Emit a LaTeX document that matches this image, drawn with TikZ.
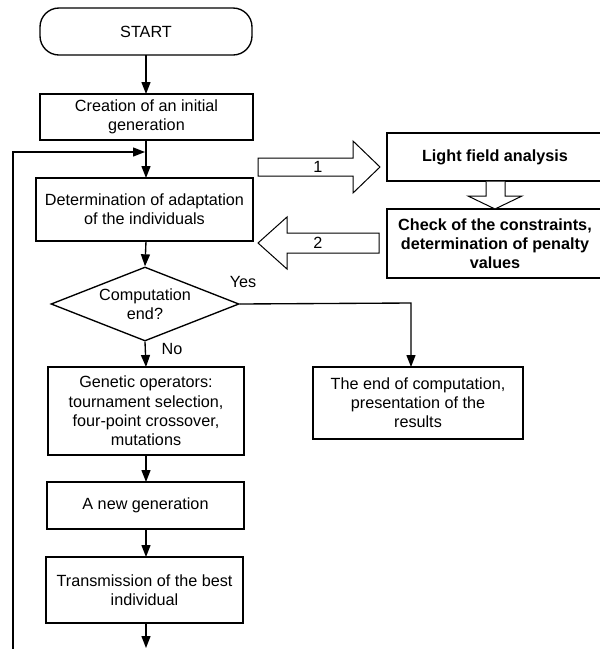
\documentclass[tikz,border=0pt]{standalone}
\usepackage{fontspec}
\setmainfont{Liberation Sans}
\usetikzlibrary{shapes.geometric,arrows.meta}
\begin{document}
\begin{tikzpicture}[x=1pt,y=-1pt,
  every node/.style={font=\fontsize{16.2}{19.2}\selectfont},
  box/.style={draw,line width=1.35pt,align=center,inner sep=0pt},
  bbox/.style={box,font=\fontsize{16.2}{19.2}\selectfont\bfseries},
  conn/.style={line width=1.35pt,-{Triangle[length=12pt,width=9pt]}},
  blockarrow/.style={draw,line width=1pt,fill=white,line join=miter},
  lbl/.style={inner sep=0pt}]
\fill[white] (0,0) rectangle (600,649);
\useasboundingbox (0,0) rectangle (600,649);

\node[box,rounded corners=19pt,minimum width=212pt,minimum height=47pt] (start) at (146,31.5) {START};
\node[box,minimum width=213pt,minimum height=46pt] (create) at (146.5,117) {Creation of an initial\\generation};
\node[box,minimum width=217pt,minimum height=63pt] (determ) at (144.5,209.5) {Determination of adaptation\\of the individuals};
\node[draw,line width=1.35pt,diamond,aspect=2.54,minimum width=188pt,minimum height=74pt,inner sep=0pt,align=center] (dec) at (145,304) {Computation\\end?};
\node[box,minimum width=196pt,minimum height=88pt] (genop) at (146,411) {Genetic operators:\\tournament selection,\\four-point crossover,\\mutations};
\node[box,minimum width=210pt,minimum height=72pt] (endc) at (418,403) {The end of computation,\\presentation of the\\results};
\node[box,minimum width=197pt,minimum height=47pt] (newgen) at (145.5,505.5) {A new generation};
\node[box,minimum width=197pt,minimum height=66pt] (trans) at (144.5,590) {Transmission of the best\\individual};
\node[bbox,minimum width=216pt,minimum height=48pt] (light) at (495,157) {Light field analysis};
\node[bbox,minimum width=216pt,minimum height=69pt] (check) at (495,243.5) {Check of the constraints,\\determination of penalty\\values};

% main flow
\draw[conn] (146,55) -- (146,94);
\draw[conn] (146,140) -- (146,178);
\draw[conn] (146,241) -- (dec.north);
\draw[conn] (dec.south) -- (146,367);
\draw[conn] (146,455) -- (146,482);
\draw[conn] (146,529) -- (146,557);
\coordinate (bottomend) at (146,648);
\draw[conn] (146,623) -- (bottomend);

% yes branch
\coordinate (yesturn) at (411,303);
\draw[conn] (dec.east) -- (yesturn) -- (411,367);
\node[lbl] (yes) at (243,282) {Yes};
\node[lbl] (no) at (172,349) {No};

% feedback loop
\coordinate (fbstart) at (13,652);
\coordinate (fbcorner) at (13,152);
\draw[conn] (fbstart) -- (fbcorner) -- (145,152);

% block arrows
\draw[blockarrow] (258,158) -- (353,158) -- (353,141) -- (380,167) -- (353,193) -- (353,176) -- (258,176) -- cycle;
\node[lbl] (one) at (318,167) {1};
\draw[blockarrow] (486,181.5) -- (486,196) -- (468,196) -- (495,209) -- (522,196) -- (505,196) -- (505,181.5);
\draw[blockarrow] (379,233) -- (287,233) -- (287,217) -- (258,243) -- (287,269) -- (287,253) -- (379,253) -- cycle;
\node[lbl] (two) at (318,243) {2};
\end{tikzpicture}
\end{document}
